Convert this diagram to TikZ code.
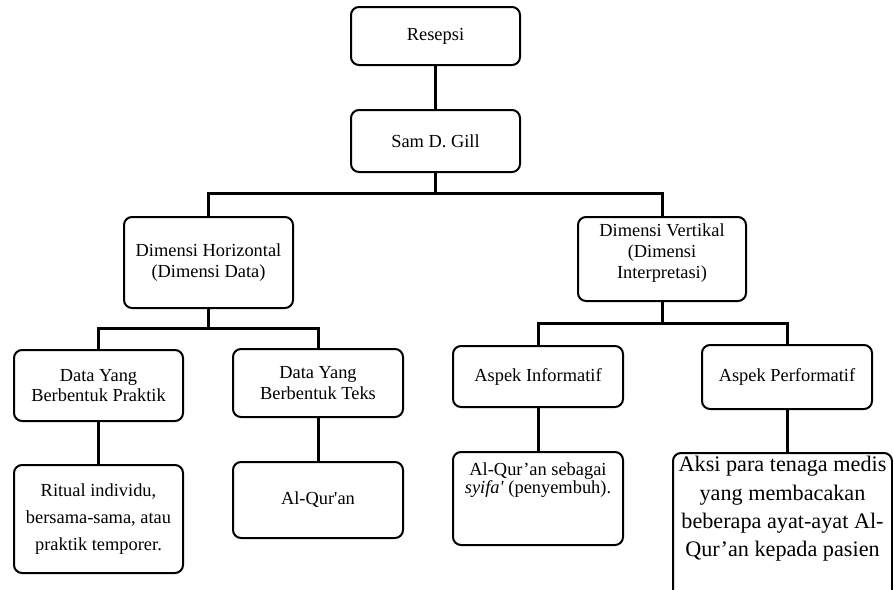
\documentclass[tikz,border=0pt]{standalone}
\usepackage{fontspec}
\setmainfont{Liberation Serif}
\tikzset{
	box/.style  = { draw, line width = 2pt, rounded corners = 8pt, align = center, inner sep = 0pt,
	                font = \fontsize{18.4}{20.8}\selectfont },
	txt/.style  = { align = center, inner sep = 0pt, font = \fontsize{18.4}{20.8}\selectfont },
	link/.style = { line width = 3pt }
}
\begin{document}
\begin{tikzpicture}[x=1pt, y=-1pt]
		\useasboundingbox ( 0, 0 ) rectangle ( 893, 589 );

		% tingkat 1 dan 2
		\node [box, minimum width = 169pt, minimum height = 58pt] (resepsi) at ( 435.5, 36 ) {Resepsi};
		\node [box, minimum width = 169pt, minimum height = 62pt] (gill) at ( 435.5, 141 ) {Sam D. Gill};

		% tingkat 3: dimensi
		\node [box, minimum width = 169pt, minimum height = 91pt] (horiz) at ( 208.5, 262.5 ) {Dimensi Horizontal\\(Dimensi Data)};
		\node [box, minimum width = 168pt, minimum height = 84pt] (vert) at ( 662, 259 ) {};
		\node [txt] (vertText) at ( 662, 253 ) {Dimensi Vertikal\\(Dimensi\\Interpretasi)};

		% tingkat 4: data dan aspek
		\node [box, minimum width = 169pt, minimum height = 71pt] (praktik) at ( 98.5, 385.5 ) {Data Yang\\Berbentuk Praktik};
		\node [box, minimum width = 170pt, minimum height = 68pt] (teks) at ( 318, 383 ) {Data Yang\\Berbentuk Teks};
		\node [box, minimum width = 170pt, minimum height = 61pt] (info) at ( 538, 376.5 ) {Aspek Informatif};
		\node [box, minimum width = 170pt, minimum height = 64pt] (perf) at ( 787, 377 ) {Aspek Performatif};

		% tingkat 5: contoh
		\node [box, minimum width = 169pt, minimum height = 108pt,
		       font = \fontsize{18.4}{26.6}\selectfont] (ritual) at ( 98.5, 519 ) {Ritual individu,\\bersama-sama, atau\\praktik temporer.};
		\node [box, minimum width = 170pt, minimum height = 76pt] (quran) at ( 318, 500 ) {Al-Qur\textquotesingle an};
		\node [box, minimum width = 170pt, minimum height = 93pt] (syifa) at ( 538, 498.5 ) {};
		\node [txt, font = \fontsize{18.4}{18.6}\selectfont] (syifaText) at ( 538, 480 ) {Al-Qur’an sebagai\\\textit{syifa\textquotesingle} (penyembuh).};
		\node [box, minimum width = 219pt, minimum height = 152pt] (aksi) at ( 782.5, 529 ) {};
		\node [txt, font = \fontsize{22.2}{28.4}\selectfont] (aksiText) at ( 782.5, 509 ) {Aksi para tenaga medis\\yang membacakan\\beberapa ayat-ayat Al-\\Qur’an kepada pasien};

		% garis penghubung
		\coordinate (gillJoin) at ( 435.5, 193 );
		\coordinate (horizJoin) at ( 208.5, 328 );
		\coordinate (vertJoin) at ( 662, 323 );
		\draw [link] (resepsi.south) -- (gill.north);
		\draw [link] (gill.south) -- (gillJoin) -| (horiz.north);
		\draw [link] (gillJoin) -| (vert.north);
		\draw [link] (horiz.south) -- (horizJoin) -| (praktik.north);
		\draw [link] (horizJoin) -| (teks.north);
		\draw [link] (vert.south) -- (vertJoin) -| (info.north);
		\draw [link] (vertJoin) -| (perf.north);
		\draw [link] (praktik.south) -- (ritual.north);
		\draw [link] (teks.south) -- (quran.north);
		\draw [link] (info.south) -- (syifa.north);
		\draw [link] (perf.south) -- (perf.south |- aksi.north);
	\end{tikzpicture}
\end{document}
